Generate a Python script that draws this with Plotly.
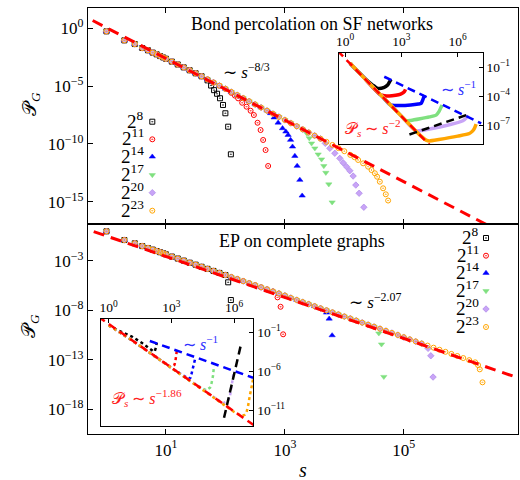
import plotly.graph_objects as go

W, H = 520, 480
ML, MR, MT, MB = 88, 2, 8, 46
PW, PH = W - ML - MR, H - MT - MB


def px_x(px):
    return (px - ML) / PW


def px_y(py):
    return (H - MB - py) / PH


FONT = "Liberation Serif"

# ---------------- data ----------------
size_labels = ["2<sup>8</sup>", "2<sup>11</sup>", "2<sup>14</sup>", "2<sup>17</sup>", "2<sup>20</sup>", "2<sup>23</sup>"]
colors = ["#000000", "#ff0000", "#0000ff", "#7fe07f", "#c8a4f6", "#ffa500"]
symbols = ["square-open-dot", "circle-open-dot", "triangle-up", "triangle-down", "diamond", "circle-open-dot"]

# top panel: bond percolation on SF networks (log10 s, log10 P_G)
top_bulk_logs = [0, 0.301, 0.477, 0.602, 0.699, 0.778, 0.845, 0.903, 0.954, 1.0,
                 1.1, 1.2, 1.3, 1.4, 1.5, 1.6, 1.7, 1.8, 1.9, 2.0,
                 2.1, 2.2, 2.3, 2.4, 2.5, 2.6, 2.7, 2.8, 2.9, 3.0,
                 3.1, 3.2, 3.3, 3.4, 3.5, 3.6, 3.7, 3.8, 3.9, 4.0]
top_bulk_logp = [-0.26, -1.04, -1.36, -1.70, -1.90, -2.10, -2.25, -2.40, -2.52, -2.63,
                 -2.88, -3.13, -3.38, -3.63, -3.89, -4.15, -4.42, -4.69, -4.96, -5.23,
                 -5.50, -5.77, -6.04, -6.31, -6.58, -6.85, -7.12, -7.39, -7.66, -7.93,
                 -8.20, -8.47, -8.74, -9.01, -9.28, -9.55, -9.82, -10.09, -10.36, -10.63]
top_bulk_end = [1.6, 2.0, 2.7, 3.3, 3.6, 4.0]
top_tail_logs = [
    [1.70, 1.76, 1.81, 1.86, 1.91, 1.96, 2.00, 2.047, 2.092],
    [2.10, 2.16, 2.215, 2.282, 2.356, 2.424, 2.479, 2.541, 2.592, 2.635, 2.676, 2.719],
    [2.76, 2.82, 2.887, 2.961, 3.017, 3.055, 3.096, 3.129, 3.168, 3.207, 3.252, 3.291],
    [3.37, 3.41, 3.449, 3.504, 3.560, 3.617, 3.655, 3.689, 3.739, 3.795],
    [3.68, 3.756, 3.840, 3.924, 3.980, 4.037, 4.092, 4.148, 4.193, 4.249, 4.328],
    [4.10, 4.17, 4.232, 4.316, 4.400, 4.457, 4.513, 4.551, 4.597, 4.652, 4.697, 4.736],
]
top_tail_logp = [
    [-4.50, -4.95, -5.35, -5.66, -6.05, -6.63, -7.35, -8.51, -10.90],
    [-5.58, -5.82, -6.06, -6.44, -6.78, -7.13, -7.50, -8.17, -8.80, -9.66, -10.53, -11.91],
    [-7.35, -7.72, -8.17, -8.65, -8.94, -9.23, -9.66, -10.24, -11.05, -11.91, -13.12, -14.48],
    [-9.10, -9.50, -9.95, -10.38, -10.90, -11.33, -11.91, -12.49, -13.49, -15.05],
    [-9.95, -10.38, -10.81, -11.25, -11.63, -11.97, -12.32, -12.78, -13.56, -14.27, -15.48],
    [-10.95, -11.15, -11.39, -11.68, -11.97, -12.26, -12.54, -12.84, -13.27, -13.84, -14.36, -14.90],
]
top_fit_exp = -8 / 3
top_fit_logc = 0.06

# bottom panel: EP on complete graphs
bot_bulk_logs = [0, 0.301, 0.477, 0.602, 0.699, 0.778, 0.845, 0.903, 0.954, 1.0,
                 1.1, 1.2, 1.3, 1.4, 1.5, 1.6, 1.7, 1.8, 1.9, 2.0,
                 2.1, 2.2, 2.3, 2.4, 2.5, 2.6, 2.7, 2.8, 2.9, 3.0,
                 3.1, 3.2, 3.3, 3.4, 3.5, 3.6, 3.7, 3.8, 3.9, 4.0,
                 4.1, 4.2, 4.3, 4.4, 4.5, 4.6, 4.7, 4.8, 4.9, 5.0,
                 5.1, 5.2, 5.3, 5.4, 5.5, 5.6, 5.7, 5.8, 5.9, 6.0, 6.1, 6.2]
bot_bulk_logp = [-0.03, -0.91, -1.24, -1.52, -1.72, -1.88, -2.02, -2.14, -2.24, -2.35,
                 -2.58, -2.78, -2.99, -3.20, -3.40, -3.61, -3.82, -4.03, -4.23, -4.44,
                 -4.65, -4.85, -5.06, -5.27, -5.47, -5.68, -5.89, -6.10, -6.30, -6.51,
                 -6.75, -6.96, -7.17, -7.38, -7.59, -7.80, -8.00, -8.21, -8.42, -8.63,
                 -8.83, -9.04, -9.25, -9.46, -9.66, -9.87, -10.08, -10.29, -10.50, -10.72,
                 -10.94, -11.15, -11.36, -11.57, -11.78, -11.99, -12.20, -12.41, -12.62, -12.83, -13.04, -13.26]
bot_bulk_end = [2.0, 2.8, 3.6, 4.5, 5.3, 6.2]
bot_tail_logs = [[2.047, 2.092], [2.877, 2.928, 2.971], [3.701, 3.745, 3.795],
                 [4.580, 4.625, 4.664], [5.408, 5.454, 5.492], [6.249, 6.277, 6.323]]
bot_tail_logp = [[-5.18, -6.97], [-6.70, -7.65, -10.43], [-8.25, -8.86, -10.54],
                 [-10.33, -11.44, -14.72], [-11.85, -12.60, -14.75], [-13.54, -13.97, -15.28]]
bot_fit_exp = -2.07
bot_fit_logc = -0.50

# top inset: P_s curves (log10 s, log10 P_s)
ti_logs = [
    [0.27, 1.0, 1.47, 1.74, 2.09, 2.27, 2.40, 2.45],
    [0.27, 1.0, 1.85, 2.1, 2.5, 2.85, 3.05, 3.17, 3.22],
    [0.27, 1.0, 2.0, 2.42, 2.8, 3.5, 3.9, 4.05, 4.17, 4.23],
    [0.27, 1.0, 2.0, 3.0, 3.25, 3.5, 4.0, 4.5, 4.85, 5.0, 5.1, 5.17],
    [0.27, 1.0, 2.0, 3.0, 3.78, 4.5, 5.5, 6.27, 6.45, 6.54],
    [0.27, 1.0, 2.0, 3.0, 4.0, 4.35, 4.49, 5.0, 6.0, 6.62, 6.8, 6.89, 6.98],
]
ti_logp = [
    [-0.58, -2.05, -2.84, -3.19, -3.08, -2.84, -2.40, -2.25],
    [-0.58, -2.07, -3.80, -3.96, -3.95, -3.85, -3.70, -3.50, -3.29],
    [-0.58, -2.07, -4.07, -4.90, -4.97, -4.92, -4.82, -4.75, -4.23, -3.89],
    [-0.58, -2.07, -4.07, -6.07, -6.55, -6.52, -6.35, -6.15, -5.97, -5.60, -5.20, -4.93],
    [-0.58, -2.07, -4.07, -6.07, -7.60, -7.40, -7.00, -6.55, -6.25, -5.97],
    [-0.58, -2.07, -4.07, -6.07, -8.07, -8.60, -8.65, -8.50, -8.15, -7.88, -7.60, -7.35, -6.91],
]
ti_red_exp, ti_red_logc, ti_red_range = -2.0, -0.074, [-0.4, 4.7]
ti_blue_logs, ti_blue_logp = [2.09, 7.25], [-1.98, -6.83]
ti_black_logs, ti_black_logp = [3.43, 6.45], [-7.98, -5.97]

# bottom inset
bi_logs = [
    [0, 0.5, 1.09, 1.6, 2.12, 2.2, 2.26, 2.30],
    [0, 1.0, 2.0, 2.95, 3.05, 3.15, 3.20, 3.24, 3.27],
    [0, 1.0, 2.0, 3.0, 3.83, 3.92, 3.96, 4.02, 4.07, 4.15],
    [0, 1.0, 2.0, 3.0, 4.0, 4.67, 4.85, 4.91, 4.99, 5.04],
    [0, 1.0, 2.0, 3.0, 4.0, 5.0, 5.47, 5.70, 5.79, 5.87, 5.95, 5.99],
    [0, 1.0, 2.0, 3.0, 4.0, 5.0, 6.0, 6.35, 6.50, 6.59, 6.67, 6.75, 6.83, 6.91],
]
bi_logp = [
    [-0.15, -0.85, -1.55, -2.40, -3.43, -3.50, -3.00, -2.37],
    [-0.15, -1.85, -3.72, -5.45, -5.40, -5.20, -4.60, -3.85, -3.21],
    [-0.15, -1.85, -3.72, -5.58, -7.00, -6.80, -6.40, -5.70, -4.92, -4.28],
    [-0.15, -1.85, -3.72, -5.58, -7.45, -8.45, -8.10, -7.68, -6.62, -5.34],
    [-0.15, -1.85, -3.72, -5.58, -7.45, -9.33, -10.10, -9.80, -9.39, -8.11, -6.40, -5.98],
    [-0.15, -1.85, -3.72, -5.58, -7.45, -9.33, -11.20, -11.73, -11.60, -11.31, -10.45, -9.17, -7.90, -7.04],
]
bi_red_exp, bi_red_logc, bi_red_range = -1.86, 0.03, [-0.5, 7.0]
bi_blue_logs, bi_blue_logp = [1.97, 6.91], [-2.15, -6.84]
bi_black_logs, bi_black_logp = [5.52, 6.35], [-11.95, -2.37]


def pw(vals):
    return [10 ** v for v in vals]


def marker_style(i):
    sym = symbols[i]
    if sym == "diamond":
        return dict(symbol=sym, size=5, color=colors[i], line=dict(color="#a47ce6", width=0.6))
    if sym in ("triangle-up", "triangle-down"):
        return dict(symbol=sym, size=5.5, color=colors[i], line=dict(color=colors[i], width=0.5))
    return dict(symbol=sym, size=5, color=colors[i], line=dict(color=colors[i], width=1))


fig = go.Figure()


def add_panel(bulk_s, bulk_p, ends, tails_s, tails_p, fit_exp, fit_logc, xa, ya):
    for i in range(6):
        xs = [s for s in bulk_s if s <= ends[i] + 1e-9] + tails_s[i]
        ys = [p for s, p in zip(bulk_s, bulk_p) if s <= ends[i] + 1e-9] + tails_p[i]
        fig.add_trace(go.Scatter(
            x=pw(xs), y=pw(ys), mode="markers", xaxis=xa, yaxis=ya, showlegend=False,
            marker=marker_style(i)))
    lx = [-0.5, 7.2]
    fig.add_trace(go.Scatter(
        x=pw(lx), y=pw([fit_logc + fit_exp * v for v in lx]), mode="lines",
        xaxis=xa, yaxis=ya, showlegend=False,
        line=dict(color="#ff0000", width=3, dash="11px,7px")))


add_panel(top_bulk_logs, top_bulk_logp, top_bulk_end, top_tail_logs, top_tail_logp,
          top_fit_exp, top_fit_logc, "x", "y")
add_panel(bot_bulk_logs, bot_bulk_logp, bot_bulk_end, bot_tail_logs, bot_tail_logp,
          bot_fit_exp, bot_fit_logc, "x2", "y2")

# top inset
for i in range(6):
    fig.add_trace(go.Scatter(x=pw(ti_logs[i]), y=pw(ti_logp[i]), mode="lines", xaxis="x3", yaxis="y3",
                             showlegend=False, line=dict(color=colors[i], width=3.5, shape="spline", smoothing=0.6)))
fig.add_trace(go.Scatter(x=pw(ti_red_range), y=pw([ti_red_logc + ti_red_exp * v for v in ti_red_range]),
                         mode="lines", xaxis="x3", yaxis="y3", showlegend=False,
                         line=dict(color="#ff0000", width=2.5, dash="8px,5px")))
fig.add_trace(go.Scatter(x=pw(ti_blue_logs), y=pw(ti_blue_logp), mode="lines", xaxis="x3", yaxis="y3",
                         showlegend=False, line=dict(color="#0000ff", width=2.5, dash="8px,5px")))
fig.add_trace(go.Scatter(x=pw(ti_black_logs), y=pw(ti_black_logp), mode="lines", xaxis="x3", yaxis="y3",
                         showlegend=False, line=dict(color="#000000", width=2.5, dash="8px,5px")))

# bottom inset
for i in range(6):
    fig.add_trace(go.Scatter(x=pw(bi_logs[i]), y=pw(bi_logp[i]), mode="lines", xaxis="x4", yaxis="y4",
                             showlegend=False, line=dict(color=colors[i], width=2.5, dash="dot")))
fig.add_trace(go.Scatter(x=pw(bi_red_range), y=pw([bi_red_logc + bi_red_exp * v for v in bi_red_range]),
                         mode="lines", xaxis="x4", yaxis="y4", showlegend=False,
                         line=dict(color="#ff0000", width=2.5, dash="8px,5px")))
fig.add_trace(go.Scatter(x=pw(bi_blue_logs), y=pw(bi_blue_logp), mode="lines", xaxis="x4", yaxis="y4",
                         showlegend=False, line=dict(color="#0000ff", width=2.5, dash="8px,5px")))
fig.add_trace(go.Scatter(x=pw(bi_black_logs), y=pw(bi_black_logp), mode="lines", xaxis="x4", yaxis="y4",
                         showlegend=False, line=dict(color="#000000", width=2.5, dash="8px,5px")))

# custom legends (text left of marker, positioned in paper units)
top_leg_rows = [121.7, 139.3, 156.7, 175.0, 192.7, 210.7]
bot_leg_rows = [238.0, 255.7, 273.0, 291.0, 309.0, 327.0]
annotations = []
for rows, mx, lx in ((top_leg_rows, 152.3, 146), (bot_leg_rows, 486, 481)):
    for i in range(6):
        fig.add_trace(go.Scatter(x=[px_x(mx)], y=[px_y(rows[i])], mode="markers", xaxis="x5", yaxis="y5",
                                 showlegend=False, cliponaxis=False, marker=marker_style(i)))
        annotations.append(dict(text=size_labels[i], x=px_x(lx), y=px_y(rows[i] - 2), xref="paper", yref="paper",
                                xanchor="right", yanchor="middle", showarrow=False,
                                font=dict(family=FONT, size=19, color="black")))


def ann(text, x, y, size=16, color="black", angle=0):
    annotations.append(dict(text=text, x=px_x(x), y=px_y(y), xref="paper", yref="paper",
                            xanchor="center", yanchor="middle", showarrow=False, textangle=angle,
                            font=dict(family=FONT, size=size, color=color)))


ann("Bond percolation on SF networks", 312, 24, 18)
ann("EP on complete graphs", 302, 241, 18)
ann("∼ <i>s</i><sup>−8/3</sup>", 246, 71, 17)
ann("∼ <i>s</i><sup>−2.07</sup>", 375, 301, 17)
ann("∼ <i>s</i><sup>−1</sup>", 458, 88, 16, "#3030ff")
ann("𝒫<sub><i>s</i></sub> ∼ <i>s</i><sup>−2</sup>", 373, 128, 16, "#ff2020")
ann("∼ <i>s</i><sup>−1</sup>", 200, 343, 16, "#3030ff")
ann("𝒫<sub><i>s</i></sub> ∼ <i>s</i><sup>−1.86</sup>", 147, 398, 16, "#ff2020")
ann("𝒫<sub><i>G</i></sub>", 31, 104, 19, angle=-90)
ann("𝒫<sub><i>G</i></sub>", 30, 326, 19, angle=-90)
ann("<i>s</i>", 303, 470, 20)


def sup(n):
    return "10<sup>" + (str(n) if n >= 0 else "−" + str(-n)) + "</sup>"


axis_common = dict(type="log", showline=True, linecolor="black", linewidth=1.3, ticks="inside",
                   ticklen=5, tickwidth=1.2, tickcolor="black", showgrid=False, zeroline=False,
                   tickfont=dict(family=FONT, size=17, color="black"))
inset_common = dict(axis_common, ticklen=4, tickfont=dict(family=FONT, size=13.5, color="black"))

split = px_y(224)
main_xt = [1, 3, 5]
fig.update_layout(
    width=W, height=H, margin=dict(l=ML, r=MR, t=MT, b=MB),
    paper_bgcolor="white", plot_bgcolor="rgba(0,0,0,0)", showlegend=False,
    font=dict(family=FONT),
    xaxis=dict(axis_common, domain=[0, 1], anchor="y", range=[-0.31, 6.92], mirror="ticks",
               tickvals=pw(main_xt), showticklabels=False),
    yaxis=dict(axis_common, domain=[split, 1], anchor="x", range=[-16.93, 1.76], mirror=True,
               tickvals=pw([0, -5, -10, -15]), ticktext=[sup(v) for v in [0, -5, -10, -15]]),
    xaxis2=dict(axis_common, domain=[0, 1], anchor="y2", range=[-0.31, 6.92], mirror="ticks",
                tickvals=pw(main_xt), ticktext=[sup(v) for v in main_xt]),
    yaxis2=dict(axis_common, domain=[0, split], anchor="x2", range=[-20.5, 0.71], mirror=True,
                tickvals=pw([-3, -8, -13, -18]), ticktext=[sup(v) for v in [-3, -8, -13, -18]]),
    xaxis3=dict(inset_common, domain=[px_x(339), px_x(482.7)], anchor="y3", side="top",
                range=[-0.32, 7.33], mirror=True,
                tickvals=pw([0, 3, 6]), ticktext=[sup(v) for v in [0, 3, 6]]),
    yaxis3=dict(inset_common, domain=[px_y(144.3), px_y(52.7)], anchor="x3", side="right",
                range=[-9.0, 0.52], mirror=True,
                tickvals=pw([-1, -4, -7]), ticktext=[sup(v) for v in [-1, -4, -7]]),
    xaxis4=dict(inset_common, domain=[px_x(100.5), px_x(253.3)], anchor="y4", side="top",
                range=[-0.39, 6.92], mirror=True,
                tickvals=pw([0, 3, 6]), ticktext=[sup(v) for v in [0, 3, 6]]),
    yaxis4=dict(inset_common, domain=[px_y(426), px_y(319)], anchor="x4", side="right",
                range=[-13.0, 0.66], mirror=True,
                tickvals=pw([-1, -6, -11]), ticktext=[sup(v) for v in [-1, -6, -11]]),
    xaxis5=dict(domain=[0, 1], anchor="y5", range=[0, 1], visible=False),
    yaxis5=dict(domain=[0, 1], anchor="x5", range=[0, 1], visible=False),
    annotations=annotations,
)

fig.write_html("out.html")
